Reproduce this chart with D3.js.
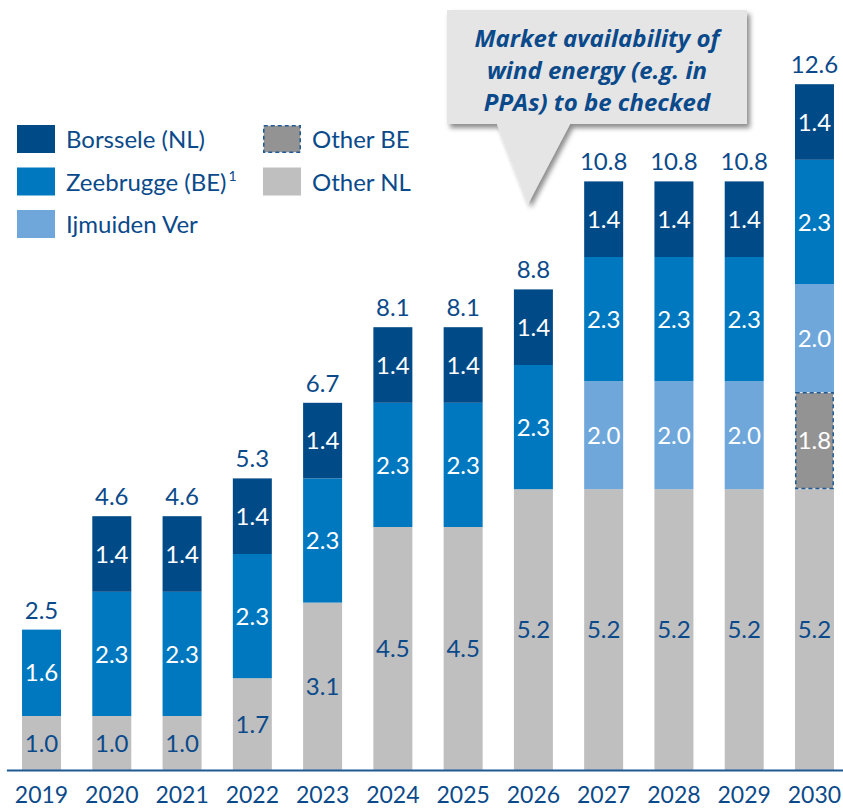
<!DOCTYPE html>
<html>
<head>
<meta charset="utf-8">
<script src="https://cdn.jsdelivr.net/npm/d3@7"></script>
<style>
  html, body { margin: 0; padding: 0; background: #fff; }
  svg { display: block; font-family: Lato, "Open Sans", sans-serif; }
</style>
</head>
<body>
<svg id="chart" width="843" height="809"></svg>
<script>
// Capacity by year, stacked bottom to top
const years      = ["2019","2020","2021","2022","2023","2024","2025","2026","2027","2028","2029","2030"];
const otherNL    = [1.0, 1.0, 1.0, 1.7, 3.1, 4.5, 4.5, 5.2, 5.2, 5.2, 5.2, 5.2];
const otherBE    = [0,   0,   0,   0,   0,   0,   0,   0,   0,   0,   0,   1.8];
const ijmuiden   = [0,   0,   0,   0,   0,   0,   0,   0,   2.0, 2.0, 2.0, 2.0];
const zeebrugge  = [1.6, 2.3, 2.3, 2.3, 2.3, 2.3, 2.3, 2.3, 2.3, 2.3, 2.3, 2.3];
const borssele   = [0,   1.4, 1.4, 1.4, 1.4, 1.4, 1.4, 1.4, 1.4, 1.4, 1.4, 1.4];
const totals     = ["2.5","4.6","4.6","5.3","6.7","8.1","8.1","8.8","10.8","10.8","10.8","12.6"];

const calloutLines = ["Market availability of", "wind energy (e.g. in", "PPAs) to be checked"];

const NAVY = "#0b4a8a";
const series = [
  { key: "otherNL",   name: "Other NL",       values: otherNL,   fill: "#bfbfbf", text: NAVY },
  { key: "otherBE",   name: "Other BE",       values: otherBE,   fill: "#939393", text: "#fff", dashed: true },
  { key: "ijmuiden",  name: "Ijmuiden Ver",   values: ijmuiden,  fill: "#6fa7db", text: "#fff" },
  { key: "zeebrugge", name: "Zeebrugge (BE)", values: zeebrugge, fill: "#0078bf", text: "#fff", sup: "1" },
  { key: "borssele",  name: "Borssele (NL)",  values: borssele,  fill: "#004a87", text: "#fff" }
];

const rows = years.map((y, i) => {
  const r = { year: y };
  series.forEach(s => r[s.key] = s.values[i]);
  return r;
});
const stacked = d3.stack().keys(series.map(s => s.key))(rows);

const svg = d3.select("#chart");

const x = d3.scaleBand().domain(years).range([6.4, 849.6]).paddingInner(0.445).paddingOuter(0.2225);
const y = d3.scaleLinear().domain([0, 14]).range([770, 14]);

// drop shadow for the callout
const defs = svg.append("defs");
const f = defs.append("filter").attr("id", "shadow").attr("x", "-10%").attr("y", "-10%").attr("width", "130%").attr("height", "140%");
f.append("feDropShadow").attr("dx", 3).attr("dy", 4).attr("stdDeviation", 2.5)
  .attr("flood-color", "#000").attr("flood-opacity", 0.45);

// bars
const layers = svg.append("g").selectAll("g").data(stacked).join("g");
layers.each(function(layer, li) {
  const s = series[li];
  const g = d3.select(this);
  const segs = layer.map((d, i) => ({ y0: d[0], y1: d[1], year: years[i], v: s.values[i] })).filter(d => d.v > 0);
  g.selectAll("rect").data(segs).join("rect")
    .attr("x", d => x(d.year) + (s.dashed ? 0.75 : 0))
    .attr("width", x.bandwidth() - (s.dashed ? 1.5 : 0))
    .attr("y", d => y(d.y1) + (s.dashed ? 0.75 : 0))
    .attr("height", d => y(d.y0) - y(d.y1) - (s.dashed ? 1.5 : 0))
    .attr("fill", s.fill)
    .attr("stroke", s.dashed ? "#1f5a93" : "none")
    .attr("stroke-width", s.dashed ? 1.5 : 0)
    .attr("stroke-dasharray", s.dashed ? "4,3" : null);
  g.selectAll("text").data(segs).join("text")
    .attr("x", d => x(d.year) + x.bandwidth() / 2)
    .attr("y", d => (y(d.y0) + y(d.y1)) / 2)
    .attr("dy", "0.36em")
    .attr("text-anchor", "middle")
    .attr("font-size", 24)
    .attr("fill", s.text)
    .text(d => d.v.toFixed(1));
});

// totals above each bar
const topLayer = stacked[stacked.length - 1];
svg.append("g").selectAll("text").data(years).join("text")
  .attr("x", d => x(d) + x.bandwidth() / 2)
  .attr("y", (d, i) => y(topLayer[i][1]) - 11)
  .attr("text-anchor", "middle")
  .attr("font-size", 24)
  .attr("fill", NAVY)
  .text((d, i) => totals[i]);

// x axis
const ax = svg.append("g").attr("transform", `translate(0,${y(0)})`)
  .call(d3.axisBottom(x).tickSize(0).tickPadding(0));
ax.select(".domain").attr("stroke", "#1f5a93").attr("stroke-width", 2);
ax.selectAll("text").attr("font-size", 23).attr("fill", NAVY)
  .attr("font-family", "Lato, sans-serif").attr("y", 33).attr("dy", 0);

// legend
const legendItems = [
  { s: series[4], col: 0, row: 0 },
  { s: series[3], col: 0, row: 1 },
  { s: series[2], col: 0, row: 2 },
  { s: series[1], col: 1, row: 0 },
  { s: series[0], col: 1, row: 1 }
];
const colX = [17, 263];
const legend = svg.append("g");
legendItems.forEach(it => {
  const gx = colX[it.col], gy = 125 + it.row * 42.5;
  legend.append("rect")
    .attr("x", gx + (it.s.dashed ? 0.75 : 0)).attr("y", gy + (it.s.dashed ? 0.75 : 0))
    .attr("width", 38 - (it.s.dashed ? 1.5 : 0)).attr("height", 28 - (it.s.dashed ? 1.5 : 0))
    .attr("fill", it.s.fill)
    .attr("stroke", it.s.dashed ? "#1f5a93" : "none")
    .attr("stroke-width", 1.5)
    .attr("stroke-dasharray", it.s.dashed ? "4,3" : null);
  const t = legend.append("text")
    .attr("x", gx + 49).attr("y", gy + 23)
    .attr("font-size", 24).attr("fill", NAVY)
    .text(it.s.name);
  if (it.s.sup) {
    t.append("tspan").attr("font-size", 14).attr("dy", -10).attr("dx", 2).text(it.s.sup);
  }
});

// callout
const callout = svg.append("g");
callout.append("path")
  .attr("d", "M447,10 L747,10 L747,124 L570,124 L528,204 L497,124 L447,124 Z")
  .attr("fill", "#e5e5e6")
  .attr("filter", "url(#shadow)");
callout.selectAll("text").data(calloutLines).join("text")
  .attr("x", 597).attr("y", (d, i) => 47 + i * 32)
  .attr("text-anchor", "middle")
  .attr("font-family", "'Open Sans', sans-serif")
  .attr("font-size", 24).attr("font-weight", "bold").attr("font-style", "italic")
  .attr("fill", NAVY)
  .text(d => d);
</script>
</body>
</html>
